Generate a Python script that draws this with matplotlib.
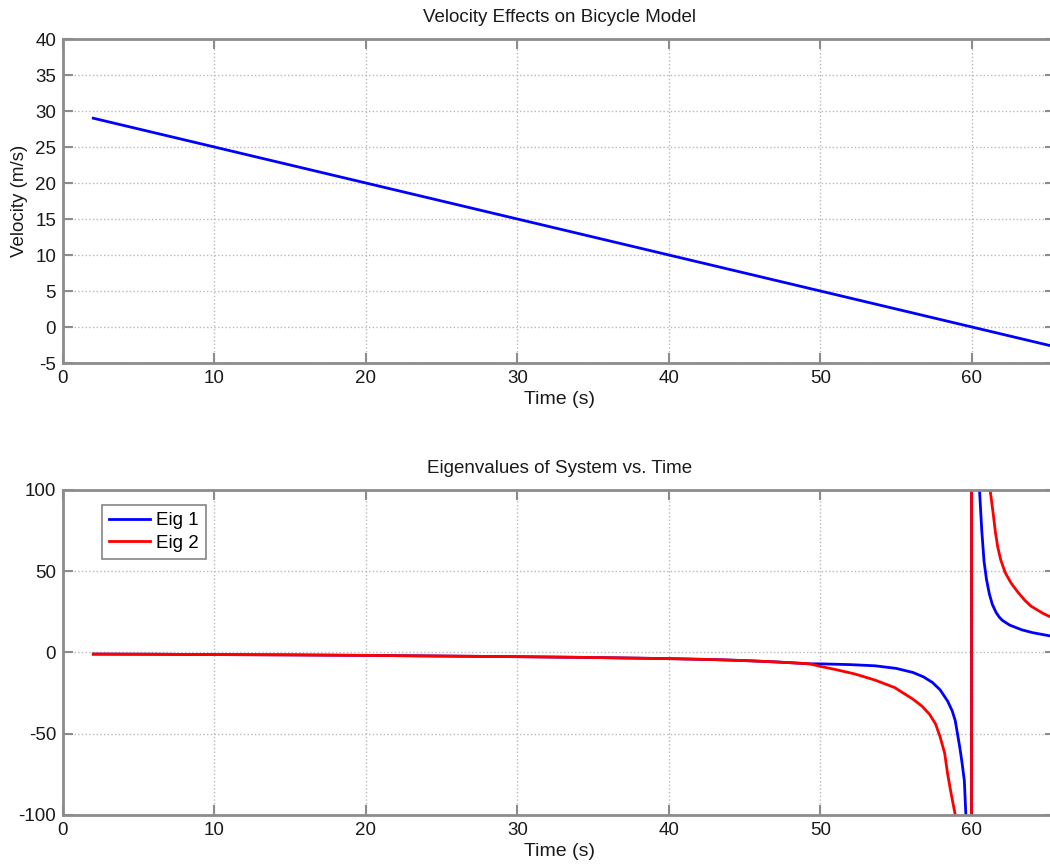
import numpy as np
import matplotlib
matplotlib.use("Agg")
import matplotlib.pyplot as plt

plt.rcParams['font.family'] = ['Liberation Sans', 'DejaVu Sans']
plt.rcParams['axes.unicode_minus'] = False

# --- velocity data ---
vel_time = [2, 10, 20, 30, 40, 50, 60, 66]
velocity = [29, 25, 20, 15, 10, 5, 0, -3]

# --- eigenvalue data ---
# shared part before the two eigenvalues separate
eig_time_common = [2, 6, 10, 15, 20, 25, 30, 35, 40, 43, 45, 47, 48, 49.3]
eig_common = [-1.0, -1.1, -1.3, -1.5, -1.8, -2.2, -2.6, -3.1, -3.8, -4.4, -5.0, -5.8, -6.3, -7.0]

eig1_time = [50, 52, 53.6, 55, 56.1, 56.8, 57.4, 57.9, 58.4, 58.7, 58.9, 59.2, 59.35, 59.5,
             59.6, 59.8, 59.95, 60.0, 60.3, 60.5, 60.65, 60.8, 60.96, 61.15, 61.35, 61.6,
             61.8, 62.0, 62.5, 63.3, 64.0, 64.8, 65.5, 66.0]
eig1 = [-7.0, -7.5, -8.2, -9.8, -12.3, -15, -18.5, -23, -30, -36, -42, -58.5, -68, -79,
        -100, -250, -1500, 1500, 200, 100, 75, 56, 45, 36, 29.5, 24.5,
        21.8, 19.8, 16.8, 13.9, 12.2, 10.8, 9.6, 9.2]

eig2_time = [50, 51, 52.3, 53.6, 54.9, 56.1, 56.7, 57.2, 57.6, 57.9, 58.2, 58.4, 58.65, 58.9,
             59.3, 59.7, 59.95, 60.0, 60.6, 61.0, 61.2, 61.4, 61.55, 61.7, 61.9, 62.2, 62.6,
             63.0, 63.5, 63.9, 64.7, 65.5, 66.0]
eig2 = [-8.6, -10.5, -13.3, -17, -21.6, -28.7, -33, -38, -44, -52, -62, -75, -88, -100,
        -180, -400, -2000, 2000, 250, 130, 100, 85.7, 74, 65, 57, 49, 42.5,
        37.5, 32, 28.5, 24, 20.5, 19.3]

grid_kw = dict(color='#b8b8b8', linestyle=':', linewidth=1.0)
spine_color = '#8c8c8c'
text_color = '#1a1a1a'


def style_axes(ax):
    for s in ax.spines.values():
        s.set_color(spine_color)
        s.set_linewidth(2.0)
    ax.tick_params(direction='in', length=7, width=1.5, color=spine_color, pad=5,
                   labelsize=13.5, labelcolor=text_color, top=True, right=True)
    ax.grid(True, **grid_kw)
    ax.set_axisbelow(True)


fig = plt.figure(figsize=(10.5, 8.67), dpi=100)

# --- top panel: velocity ---
ax1 = fig.add_axes([0.06, 0.5813, 0.945, 0.3737])
ax1.plot(vel_time, velocity, color='#0000ff', linewidth=2.0)
ax1.set_xlim(0, 65.5)
ax1.set_ylim(-5, 40)
ax1.set_xticks([0, 10, 20, 30, 40, 50, 60])
ax1.set_yticks(np.arange(-5, 41, 5))
ax1.set_title("Velocity Effects on Bicycle Model", fontsize=13.5, color=text_color, pad=12)
ax1.set_xlabel("Time (s)", fontsize=14, color=text_color, labelpad=3)
ax1.set_ylabel("Velocity (m/s)", fontsize=13.5, color=text_color, labelpad=5)
style_axes(ax1)

# --- bottom panel: eigenvalues ---
ax2 = fig.add_axes([0.06, 0.06, 0.945, 0.3749])
t1 = eig_time_common + eig1_time
t2 = eig_time_common + eig2_time
ax2.plot(t1, eig_common + eig1, color='#0000ff', linewidth=2.0, label='Eig 1')
ax2.plot(t2, eig_common + eig2, color='#ff0000', linewidth=2.0, label='Eig 2')
ax2.set_xlim(0, 65.5)
ax2.set_ylim(-100, 100)
ax2.set_xticks([0, 10, 20, 30, 40, 50, 60])
ax2.set_yticks([-100, -50, 0, 50, 100])
ax2.set_title("Eigenvalues of System vs. Time", fontsize=13.5, color=text_color, pad=12)
ax2.set_xlabel("Time (s)", fontsize=14, color=text_color, labelpad=3)
style_axes(ax2)

leg = ax2.legend(loc='upper left', bbox_to_anchor=(0.039, 0.955), fontsize=13.5,
                 frameon=True, fancybox=False, handlelength=2.2, borderpad=0.4,
                 labelspacing=0.3, handletextpad=0.3, borderaxespad=0)
leg.get_frame().set_edgecolor('#666666')
leg.get_frame().set_linewidth(1.2)

fig.savefig("out.png", dpi=100)
